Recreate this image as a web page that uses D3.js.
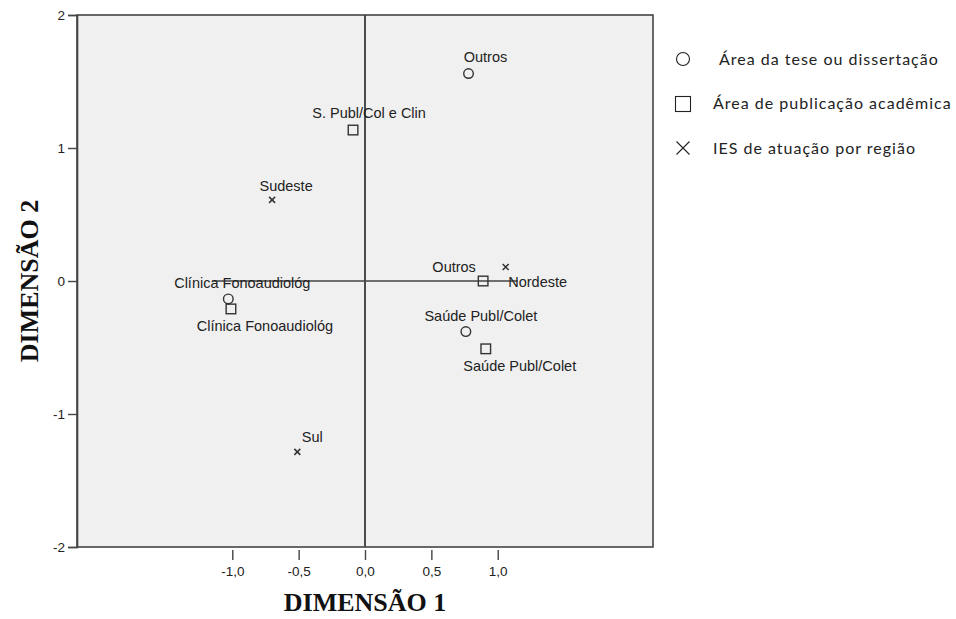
<!DOCTYPE html>
<html>
<head>
<meta charset="utf-8">
<script src="https://cdn.jsdelivr.net/npm/d3@7"></script>
<style>
  body { margin: 0; background: #fff; }
  svg { display: block; }
</style>
</head>
<body>
<div class="plot"></div>
<script>
"use strict";

// legend categories
const categories = ["Área da tese ou dissertação", "Área de publicação acadêmica", "IES de atuação por região"];

// Área da tese ou dissertação (circles)
const teseLabels = ["Outros", "Clínica Fonoaudiológ", "Saúde Publ/Colet"];
const teseDim1 = [0.78, -1.03, 0.76];
const teseDim2 = [1.56, -0.135, -0.38];

// Área de publicação acadêmica (squares)
const publLabels = ["S. Publ/Col e Clin", "Outros", "Clínica Fonoaudiológ", "Saúde Publ/Colet"];
const publDim1 = [-0.09, 0.89, -1.01, 0.91];
const publDim2 = [1.135, 0.0, -0.21, -0.51];

// IES de atuação por região (crosses)
const iesLabels = ["Sudeste", "Nordeste", "Sul"];
const iesDim1 = [-0.70, 1.06, -0.51];
const iesDim2 = [0.61, 0.105, -1.285];

const xTicks = [-1.0, -0.5, 0.0, 0.5, 1.0];
const yTicks = [-2, -1, 0, 1, 2];
const xDomain = [-2.17, 2.17];
const yDomain = [-2, 2];
const refLineX = [-1.15, 1.15];   // extent of the horizontal reference line at 0

// label placement per point (layout only)
const placeAbove = [15, -11], placeBelow = [34, 22];
const labelPlace = {
    "tese:Outros": [17, -12],
    "tese:Clínica Fonoaudiológ": [14, -11],
    "tese:Saúde Publ/Colet": placeAbove,
    "publ:S. Publ/Col e Clin": [16, -12],
    "publ:Outros": [-29, -9],
    "publ:Clínica Fonoaudiológ": placeBelow,
    "publ:Saúde Publ/Colet": placeBelow,
    "ies:Sudeste": [14, -9],
    "ies:Nordeste": [32, 20],
    "ies:Sul": [15, -10]
};

const W = 956, H = 619;
const box = { left: 77, right: 653, top: 15, bottom: 547 };

const svg = d3.select(".plot").append("svg")
    .attr("width", W)
    .attr("height", H);

const x = d3.scaleLinear().domain(xDomain).range([box.left, box.right]);
const y = d3.scaleLinear().domain(yDomain).range([box.bottom, box.top]);

// plot background
svg.append("rect")
    .attr("x", box.left)
    .attr("y", box.top)
    .attr("width", box.right - box.left)
    .attr("height", box.bottom - box.top)
    .attr("fill", "#f0f0f0");

// reference lines
svg.append("line")
    .attr("x1", x(0)).attr("x2", x(0))
    .attr("y1", box.top).attr("y2", box.bottom)
    .attr("stroke", "#222").attr("stroke-width", 1.6);
svg.append("line")
    .attr("x1", x(refLineX[0])).attr("x2", x(refLineX[1]))
    .attr("y1", y(0)).attr("y2", y(0))
    .attr("stroke", "#444").attr("stroke-width", 1.6);

// frame
svg.append("rect")
    .attr("x", box.left)
    .attr("y", box.top)
    .attr("width", box.right - box.left)
    .attr("height", box.bottom - box.top)
    .attr("fill", "none")
    .attr("stroke", "#444")
    .attr("stroke-width", 1.6);

// y axis
const yAxis = d3.axisLeft(y)
    .tickValues(yTicks)
    .tickSize(9)
    .tickPadding(3)
    .tickFormat(d3.format("d"));
const gy = svg.append("g")
    .attr("transform", `translate(${box.left},0)`)
    .call(yAxis);

// x axis, sits a little below the frame
const xAxis = d3.axisBottom(x)
    .tickValues(xTicks)
    .tickSize(10)
    .tickPadding(6)
    .tickFormat(d => d3.format(".1f")(d).replace(".", ",").replace("−", "-"));
const gx = svg.append("g")
    .attr("transform", `translate(0,${box.bottom + 3})`)
    .call(xAxis);
gx.select(".domain").remove();

[gx, gy].forEach(g => {
    g.selectAll(".domain").attr("stroke", "#444").attr("stroke-width", 1.6);
    g.selectAll(".tick line").attr("stroke", "#444").attr("stroke-width", 1.4);
    g.selectAll(".tick text")
        .attr("fill", "#222")
        .style("font-family", "'Liberation Sans', Arial, sans-serif")
        .style("font-size", "13.5px");
});
gy.selectAll(".tick text").text(d => String(d).replace("−", "-"));

// axis titles
svg.append("text")
    .attr("x", x(0))
    .attr("y", 611)
    .attr("text-anchor", "middle")
    .style("font-family", "'Liberation Serif', 'Times New Roman', serif")
    .style("font-weight", "bold")
    .style("font-size", "26px")
    .attr("fill", "#111")
    .text("DIMENSÃO 1");
svg.append("text")
    .attr("transform", `translate(38,${y(0)}) rotate(-90)`)
    .attr("text-anchor", "middle")
    .style("font-family", "'Liberation Serif', 'Times New Roman', serif")
    .style("font-weight", "bold")
    .style("font-size", "26px")
    .attr("fill", "#111")
    .text("DIMENSÃO 2");

// build point rows from the arrays
const toRows = (key, labels, d1, d2) => labels.map((l, i) => ({ key: key, label: l, a: d1[i], b: d2[i] }));
const tese = toRows("tese", teseLabels, teseDim1, teseDim2);
const publ = toRows("publ", publLabels, publDim1, publDim2);
const ies = toRows("ies", iesLabels, iesDim1, iesDim2);

const markStroke = "#333";

svg.append("g").selectAll("circle")
    .data(tese).enter()
    .append("circle")
    .attr("cx", d => x(d.a))
    .attr("cy", d => y(d.b))
    .attr("r", 4.8)
    .attr("fill", "none")
    .attr("stroke", markStroke)
    .attr("stroke-width", 1.4);

svg.append("g").selectAll("rect")
    .data(publ).enter()
    .append("rect")
    .attr("x", d => x(d.a) - 4.8)
    .attr("y", d => y(d.b) - 4.8)
    .attr("width", 9.6)
    .attr("height", 9.6)
    .attr("fill", "none")
    .attr("stroke", markStroke)
    .attr("stroke-width", 1.4);

const crossPath = s => `M${-s},${-s}L${s},${s}M${-s},${s}L${s},${-s}`;
svg.append("g").selectAll("path")
    .data(ies).enter()
    .append("path")
    .attr("transform", d => `translate(${x(d.a)},${y(d.b)})`)
    .attr("d", crossPath(3))
    .attr("fill", "none")
    .attr("stroke", markStroke)
    .attr("stroke-width", 1.5);

// point labels
svg.append("g").selectAll("text")
    .data(tese.concat(publ, ies)).enter()
    .append("text")
    .attr("x", d => x(d.a) + labelPlace[d.key + ":" + d.label][0])
    .attr("y", d => y(d.b) + labelPlace[d.key + ":" + d.label][1])
    .attr("text-anchor", "middle")
    .style("font-family", "'Liberation Sans', Arial, sans-serif")
    .style("font-size", "14.5px")
    .attr("fill", "#222")
    .text(d => d.label);

// legend
const legend = svg.append("g").attr("transform", "translate(683,0)");
const legendY = [59, 103, 148];
const legendTextX = [36, 30, 30];
const legendFont = "Lato, 'Noto Sans', sans-serif";
const legendSym = [
    g => g.append("circle").attr("r", 6.5),
    g => g.append("rect").attr("x", -7.5).attr("y", -6.5).attr("width", 15).attr("height", 15),
    g => g.append("path").attr("d", crossPath(6.5))
];
categories.forEach((c, i) => {
    const g = legend.append("g").attr("transform", `translate(0,${legendY[i]})`);
    legendSym[i](g).attr("fill", "none").attr("stroke", "#222").attr("stroke-width", 1.1);
    g.append("text")
        .attr("x", legendTextX[i])
        .attr("y", 5.5)
        .style("font-family", legendFont)
        .style("font-size", "16px")
        .style("letter-spacing", "1px")
        .attr("fill", "#222")
        .text(c);
});
</script>
</body>
</html>
